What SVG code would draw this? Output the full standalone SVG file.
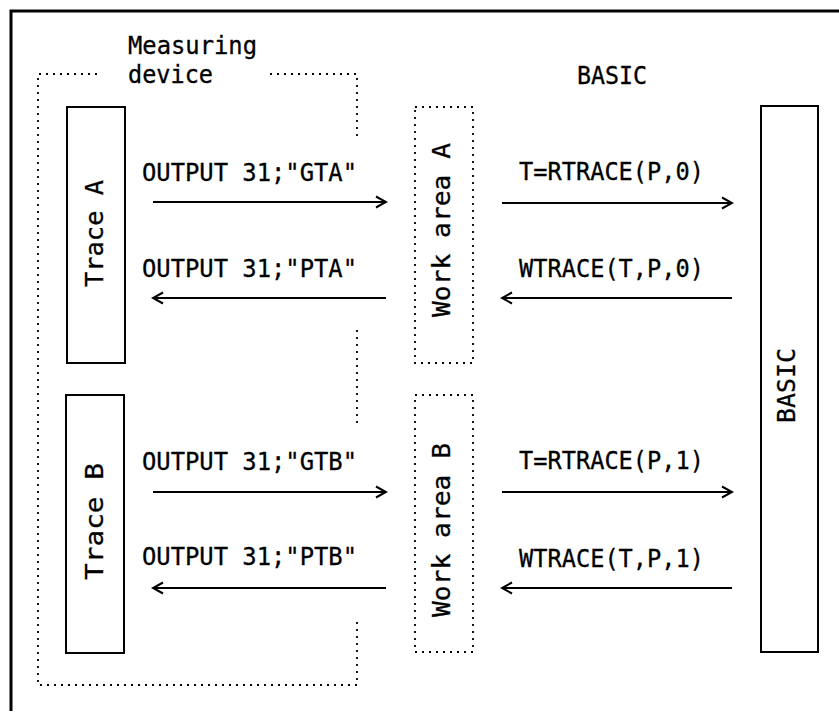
<svg xmlns="http://www.w3.org/2000/svg" width="839" height="713" viewBox="0 0 839 713">
<style>
.bg{fill:#fff}
.frame{fill:none;stroke:#000;stroke-width:3}
.box{fill:#fff;stroke:#000;stroke-width:2}
.dot{fill:none;stroke:#000;stroke-width:1.8;stroke-dasharray:2 5}
.t{font-family:"DejaVu Sans Mono","Liberation Mono",monospace;font-size:24px;fill:#000;stroke:#000;stroke-width:0.3}
.arr{fill:none;stroke:#000;stroke-width:2}
</style>
<defs>
<marker id="ah" markerUnits="userSpaceOnUse" markerWidth="14" markerHeight="14" viewBox="0 0 14 14" refX="12" refY="7" orient="auto">
<path d="M2,1.5 L12,7 L2,12.5" fill="none" stroke="#000" stroke-width="2"/>
</marker>
</defs>
<rect class="bg" x="0" y="0" width="839" height="713"/>
<path class="frame" d="M11,711 V11 H839"/>
<g id="measuring-device">
<path class="dot" d="M97,74 H38 V685 H357 V620"/>
<path class="dot" d="M270,74 H357 V138"/>
<path class="dot" d="M357,330 V428"/>
<text class="t" x="128" y="54" textLength="129" lengthAdjust="spacingAndGlyphs">Measuring</text>
<text class="t" x="128" y="83" textLength="85" lengthAdjust="spacingAndGlyphs">device</text>
</g>
<g id="trace-a">
<rect class="box" x="67" y="107" width="58" height="256"/>
<text class="t" transform="translate(103,287) rotate(-90)" textLength="107" lengthAdjust="spacingAndGlyphs">Trace A</text>
</g>
<g id="trace-b">
<rect class="box" x="66" y="395" width="58" height="258"/>
<text class="t" transform="translate(103,580) rotate(-90)" textLength="117" lengthAdjust="spacingAndGlyphs">Trace B</text>
</g>
<g id="work-area-a">
<rect class="dot" x="415" y="107" width="58" height="256"/>
<text class="t" transform="translate(450,317) rotate(-90)" textLength="174" lengthAdjust="spacingAndGlyphs">Work area A</text>
</g>
<g id="work-area-b">
<rect class="dot" x="415" y="395" width="58" height="257"/>
<text class="t" transform="translate(450,617) rotate(-90)" textLength="174" lengthAdjust="spacingAndGlyphs">Work area B</text>
</g>
<g id="basic">
<text class="t" x="577" y="84" textLength="70" lengthAdjust="spacingAndGlyphs">BASIC</text>
<rect class="box" x="761" y="106" width="57" height="546"/>
<text class="t" transform="translate(795,423) rotate(-90)" textLength="75" lengthAdjust="spacingAndGlyphs">BASIC</text>
</g>
<g id="connectors">
<line class="arr" x1="153" y1="202" x2="386" y2="202" marker-end="url(#ah)"/>
<line class="arr" x1="386" y1="298" x2="153" y2="298" marker-end="url(#ah)"/>
<line class="arr" x1="153" y1="492" x2="386" y2="492" marker-end="url(#ah)"/>
<line class="arr" x1="386" y1="588" x2="153" y2="588" marker-end="url(#ah)"/>
<line class="arr" x1="502" y1="203" x2="732" y2="203" marker-end="url(#ah)"/>
<line class="arr" x1="732" y1="298" x2="502" y2="298" marker-end="url(#ah)"/>
<line class="arr" x1="502" y1="492" x2="732" y2="492" marker-end="url(#ah)"/>
<line class="arr" x1="732" y1="588" x2="502" y2="588" marker-end="url(#ah)"/>
<text class="t" x="142" y="181" textLength="215" lengthAdjust="spacingAndGlyphs">OUTPUT 31;"GTA"</text>
<text class="t" x="142" y="277" textLength="215" lengthAdjust="spacingAndGlyphs">OUTPUT 31;"PTA"</text>
<text class="t" x="142" y="470" textLength="215" lengthAdjust="spacingAndGlyphs">OUTPUT 31;"GTB"</text>
<text class="t" x="142" y="565" textLength="215" lengthAdjust="spacingAndGlyphs">OUTPUT 31;"PTB"</text>
<text class="t" x="519" y="180" textLength="185" lengthAdjust="spacingAndGlyphs">T=RTRACE(P,0)</text>
<text class="t" x="519" y="277" textLength="185" lengthAdjust="spacingAndGlyphs">WTRACE(T,P,0)</text>
<text class="t" x="519" y="469" textLength="185" lengthAdjust="spacingAndGlyphs">T=RTRACE(P,1)</text>
<text class="t" x="519" y="567" textLength="185" lengthAdjust="spacingAndGlyphs">WTRACE(T,P,1)</text>
</g>
</svg>
